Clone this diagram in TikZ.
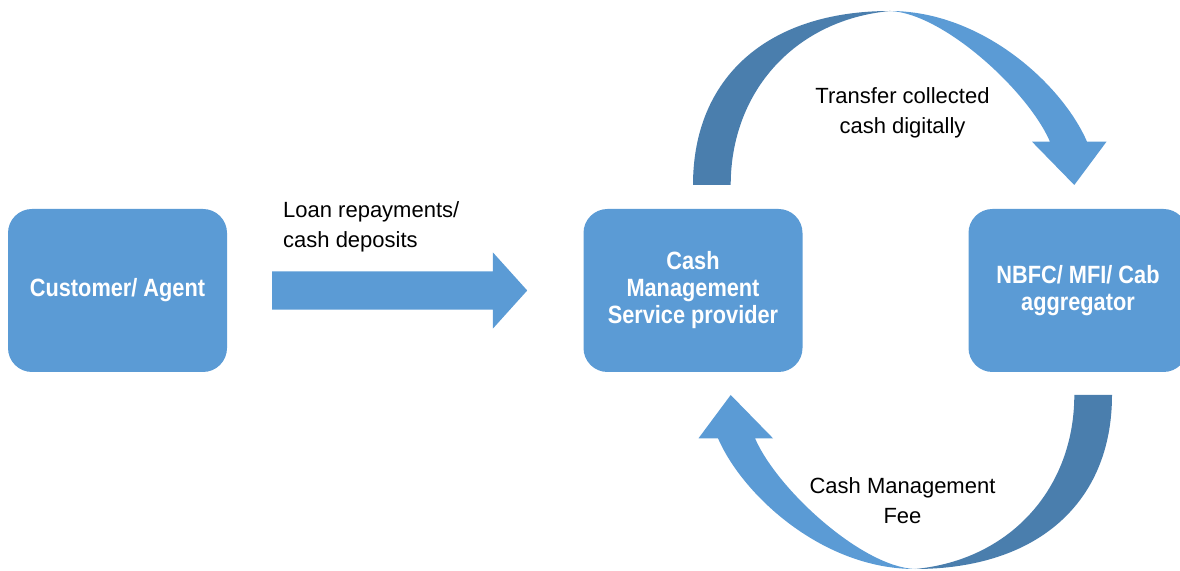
\documentclass[tikz,border=0pt]{standalone}
\usepackage{fontspec}
\setmainfont{Liberation Sans}
\newfontfamily\boxfont[FakeStretch=0.87]{Liberation Sans}
\usepackage{tikz}
\usetikzlibrary{positioning, shapes.arrows}

\definecolor{boxblue}{HTML}{5B9BD5}
\definecolor{shadeblue}{HTML}{4A7EAD}

\tikzset{
    bendarrow/.pic={
        % underside, thick at the foot, thin at the top
        \fill[shadeblue] (-209.5,105) .. controls (-209.5,213) and (-134.5,279) .. (-12.5,279)
            .. controls (-108,270) and (-171.8,198) .. (-171.8,105) -- cycle;
        % front face with the head
        \fill[boxblue] (-12.5,279) .. controls (80,279) and (160,205) .. (184.5,148.3)
            -- (204,148.3) -- (171.8,105) -- (129.5,148.3) -- (147.5,148.3)
            .. controls (125,200) and (40,277) .. (-12.5,279) -- cycle;
    }
}

\begin{document}
\begin{tikzpicture}[
    x=1pt, y=1pt,
    box/.style={
        rectangle,
        rounded corners=24pt,
        fill=boxblue,
        inner sep=0pt,
        minimum width=219pt,
        minimum height=163pt,
        align=center,
        text=white,
        font=\boxfont\bfseries\fontsize{25}{27}\selectfont
    },
    flowarrow/.style={
        single arrow,
        fill=boxblue,
        inner xsep=0pt,
        inner ysep=19pt,
        minimum height=255pt,
        single arrow head extend=19pt,
        single arrow tip angle=96
    },
    lbl/.style={inner sep=0pt, font=\fontsize{22}{30}\selectfont}
]
\useasboundingbox (0,0) rectangle (1180,570);
\clip (0,0) rectangle (1180,570);

\node[box] (cust) at (117.5, 279.5) {Customer/ Agent};
\node[box] (cms) at (693, 279.5) {Cash\\Management\\Service provider};
\node[box] (nbfc) at (1078, 279.5) {NBFC/ MFI/ Cab\\aggregator};

% straight flow into the provider
\node[flowarrow, anchor=tail] (flow) at (272, 279.5) {};
\node[lbl, align=left, anchor=south west] (flowlbl) at (283, 318) {Loan repayments/\\cash deposits};

% loop between provider and NBFC
\coordinate (loop) at (902.5, 280);
\pic at (loop) {bendarrow};
\pic[rotate=180] at (loop) {bendarrow};

\node[lbl, align=center, anchor=north] (toplbl) at (902.5, 483) {Transfer collected\\cash digitally};
\node[lbl, align=center, anchor=north] (botlbl) at (902.5, 93) {Cash Management\\Fee};

\end{tikzpicture}
\end{document}
